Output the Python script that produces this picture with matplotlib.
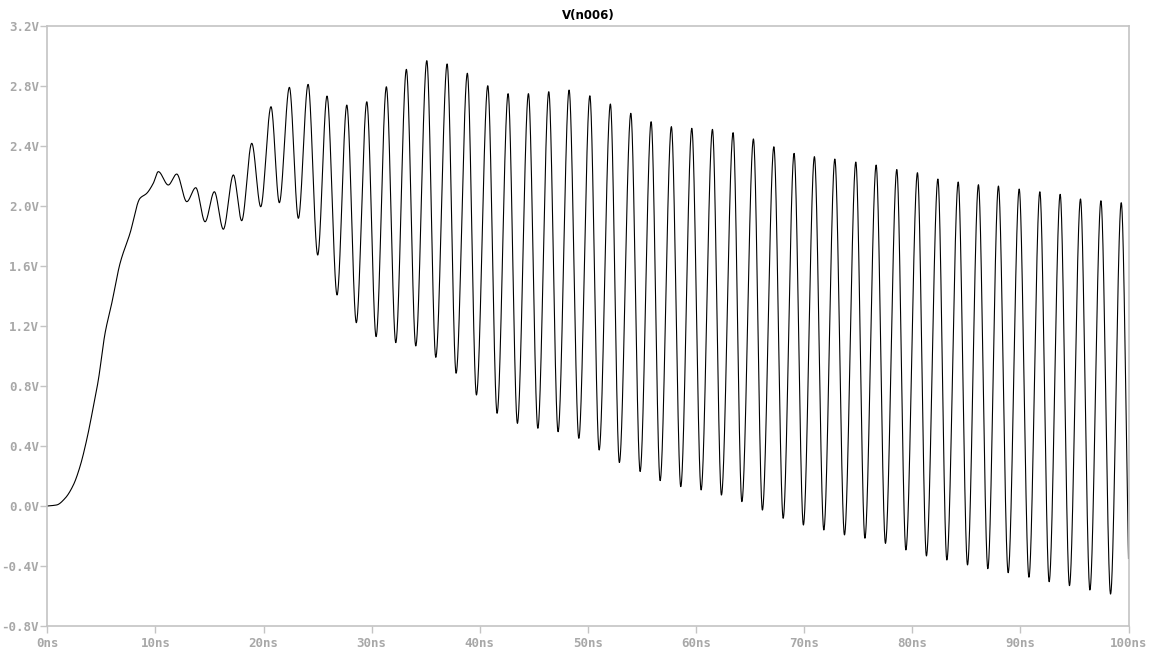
import numpy as np
import matplotlib
matplotlib.use("Agg")
import matplotlib.pyplot as plt

# Knots of V(n006): time (ns), voltage (V)
rise_t = [0.0, 0.87, 1.64, 2.41, 3.02, 3.64, 4.26, 4.72, 5.34, 5.96, 6.73, 7.65, 8.57, 9.19, 9.80]
rise_v = [0.0, 0.007, 0.051, 0.14, 0.262, 0.44, 0.662, 0.84, 1.151, 1.351, 1.618, 1.818, 2.051, 2.084, 2.151]

# alternating extrema (peak, trough, peak, ...)
ext_t = [10.27, 11.19, 11.97, 12.90, 13.73, 14.59, 15.45, 16.28, 17.21, 17.98,
         18.91, 19.74, 20.69, 21.46, 22.39, 23.22, 24.12, 25.01, 25.87, 26.80,
         27.70, 28.58, 29.55, 30.41, 31.36, 32.23, 33.21, 34.08, 35.10, 35.93,
         36.98, 37.81, 38.85, 39.69, 40.74, 41.60, 42.62, 43.48, 44.50, 45.37,
         46.38, 47.24, 48.26, 49.16, 50.18, 51.04, 52.08, 52.91, 53.97, 54.83,
         55.85, 56.68, 57.72, 58.59, 59.61, 60.47, 61.52, 62.35, 63.43, 64.24,
         65.31, 66.14, 67.20, 68.06, 69.07, 69.93, 70.95, 71.82, 72.84, 73.73,
         74.78, 75.62, 76.66, 77.52, 78.57, 79.41, 80.48, 81.31, 82.37, 83.20,
         84.25, 85.11, 86.12, 86.99, 87.97, 88.87, 89.89, 90.79, 91.80, 92.66,
         93.68, 94.54, 95.56, 96.43, 97.45, 98.34, 99.33]
ext_v = [2.229, 2.140, 2.213, 2.029, 2.122, 1.895, 2.095, 1.845, 2.207, 1.902,
         2.418, 1.995, 2.662, 2.022, 2.791, 1.918, 2.811, 1.673, 2.733, 1.407,
         2.673, 1.222, 2.695, 1.129, 2.795, 1.089, 2.911, 1.067, 2.969, 0.991,
         2.947, 0.885, 2.885, 0.740, 2.802, 0.618, 2.749, 0.551, 2.749, 0.518,
         2.762, 0.495, 2.773, 0.451, 2.735, 0.373, 2.680, 0.290, 2.618, 0.230,
         2.562, 0.169, 2.529, 0.129, 2.518, 0.107, 2.511, 0.073, 2.489, 0.029,
         2.447, -0.027, 2.395, -0.082, 2.351, -0.127, 2.329, -0.160, 2.313, -0.193,
         2.293, -0.215, 2.273, -0.249, 2.243, -0.293, 2.222, -0.333, 2.180, -0.360,
         2.160, -0.393, 2.142, -0.418, 2.133, -0.445, 2.113, -0.475, 2.095, -0.505,
         2.078, -0.531, 2.047, -0.560, 2.035, -0.587, 2.022]
end_t = [100.0]
end_v = [-0.35]

y_ticks = [-0.8, -0.4, 0.0, 0.4, 0.8, 1.2, 1.6, 2.0, 2.4, 2.8, 3.2]
y_labels = ["-0.8V", "-0.4V", "0.0V", "0.4V", "0.8V", "1.2V", "1.6V", "2.0V", "2.4V", "2.8V", "3.2V"]
x_ticks = [0, 10, 20, 30, 40, 50, 60, 70, 80, 90, 100]
x_labels = ["0ns", "10ns", "20ns", "30ns", "40ns", "50ns", "60ns", "70ns", "80ns", "90ns", "100ns"]
title = "V(n006)"


def pchip(x, y, xn):
    x = np.asarray(x, float); y = np.asarray(y, float)
    h = np.diff(x); d = np.diff(y) / h
    m = np.zeros_like(y)
    for k in range(1, len(x) - 1):
        if d[k - 1] * d[k] > 0:
            w1 = 2 * h[k] + h[k - 1]; w2 = h[k] + 2 * h[k - 1]
            m[k] = (w1 + w2) / (w1 / d[k - 1] + w2 / d[k])
    m[0] = d[0]; m[-1] = d[-1]
    idx = np.clip(np.searchsorted(x, xn) - 1, 0, len(x) - 2)
    t = (xn - x[idx]) / h[idx]
    h00 = 2 * t**3 - 3 * t**2 + 1; h10 = t**3 - 2 * t**2 + t
    h01 = -2 * t**3 + 3 * t**2; h11 = t**3 - t**2
    return h00 * y[idx] + h10 * h[idx] * m[idx] + h01 * y[idx + 1] + h11 * h[idx] * m[idx + 1]


kt = np.array(rise_t + ext_t + end_t)
kv = np.array(rise_v + ext_v + end_v)
tt = np.linspace(0, 100, 8000)
vv = pchip(kt, kv, tt)

fig = plt.figure(figsize=(11.6, 6.53), dpi=100)
ax = fig.add_axes([47.3 / 1160, 1 - 626 / 653, (1128.5 - 47.3) / 1160, 600 / 653])
ax.plot(tt, vv, color="black", lw=0.8)
ax.set_xlim(0, 100)
ax.set_ylim(-0.8, 3.2)
gray = "#a8a8a8"
for s in ax.spines.values():
    s.set_color("#c4c4c4")
    s.set_linewidth(1.2)
ax.set_xticks(x_ticks)
ax.set_xticklabels(x_labels)
ax.set_yticks(y_ticks)
ax.set_yticklabels(y_labels)
ax.tick_params(axis="both", direction="out", length=5, width=1, color="#c4c4c4",
               labelcolor=gray, labelsize=9)
ax.tick_params(axis="y", pad=1)
ax.tick_params(axis="x", pad=3)
for lab in ax.get_xticklabels() + ax.get_yticklabels():
    lab.set_family("DejaVu Sans Mono")
    lab.set_fontweight("bold")
fig.text((47.3 + 1128.5) / 2 / 1160, 1 - 15 / 653, title, ha="center", va="center",
         fontsize=8.5, fontweight="bold", color="black", family="DejaVu Sans")
fig.savefig("out.png", dpi=100, facecolor="white")
